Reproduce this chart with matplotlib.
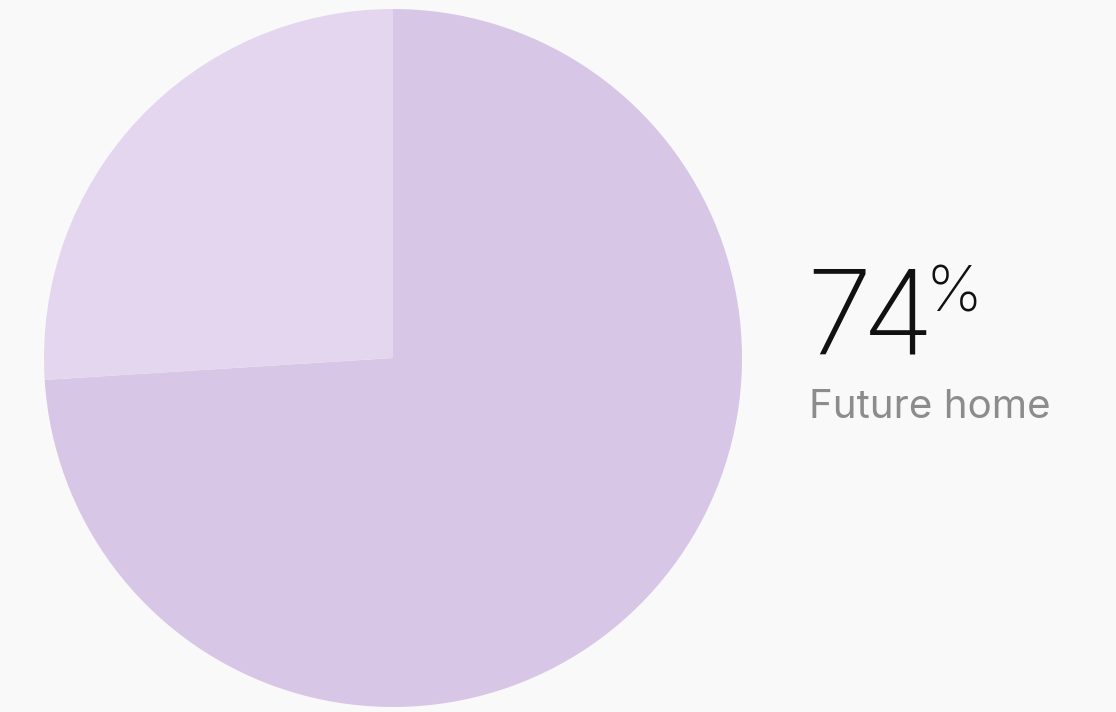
import matplotlib.pyplot as plt

# share of respondents
labels = ['Future home', 'Other']
shares = [74, 26]
colors = ['#d8c6e7', '#e3d6ee']

W, H = 1116, 712

fig = plt.figure(figsize=(W / 100, H / 100), dpi=100)
fig.patch.set_facecolor('#f9f9f9')
ax = fig.add_axes([0, 0, 1, 1])
ax.set_facecolor('#f9f9f9')

ax.pie(shares, colors=colors, startangle=90, counterclock=False,
       center=(393, H - 358), radius=349,
       wedgeprops=dict(linewidth=0))
ax.set_xlim(0, W)
ax.set_ylim(0, H)
ax.set_aspect('equal')
ax.axis('off')

font = ['Inter', 'DejaVu Sans']
# big number, set with tight tracking: one glyph at a time
x = 806
for ch in f'{shares[0]}':
    ax.text(x, H - 354, ch, fontsize=85, color='#111111', family=font,
            weight='light', ha='left', va='baseline')
    x += 56
ax.text(925, H - 312, '%', fontsize=46, color='#111111', family=font,
        weight='light', ha='left', va='baseline')
ax.text(809, H - 418, labels[0], fontsize=29, color='#8c8c8c',
        family=font, ha='left', va='baseline')

fig.savefig('out.png', dpi=100, facecolor=fig.get_facecolor())
